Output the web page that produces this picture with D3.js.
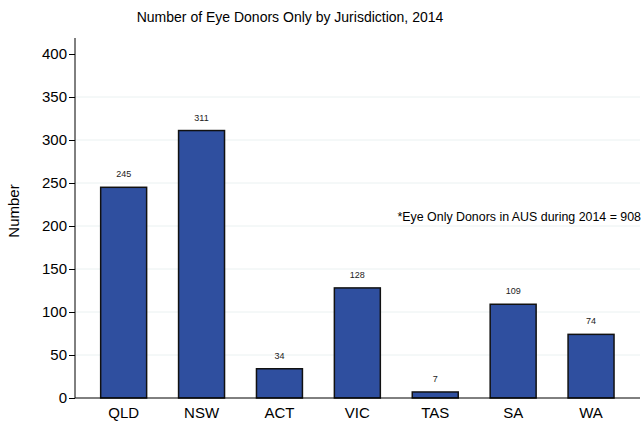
<!DOCTYPE html>
<html><head><meta charset="utf-8">
<script src="https://cdn.jsdelivr.net/npm/d3@7"></script>
<style>body{margin:0;background:#fff}svg{display:block;font-family:Arial,"Liberation Sans",sans-serif}</style>
</head><body><svg id="c" width="642" height="423"></svg>
<script>
const categories = ["QLD","NSW","ACT","VIC","TAS","SA","WA"];
const values = [245,311,34,128,7,109,74];
const yTicks = [0,50,100,150,200,250,300,350,400];
const title = "Number of Eye Donors Only by Jurisdiction, 2014";
const note = "*Eye Only Donors in AUS during 2014 = 908";

(function(){
const svg = d3.select("#c");
const mLeft = 75, mRight = 640, mTop = 54, mBottom = 398;
const y = d3.scaleLinear().domain([0,400]).range([mBottom, mTop]);
const x = d3.scaleBand().domain(categories).range([84.7,630]).paddingInner(0.41).paddingOuter(0.205);

// grid
svg.append("g").selectAll("line").data(yTicks.filter(d=>d>0&&d<400)).join("line")
  .attr("x1", mLeft).attr("x2", mRight).attr("y1", d=>y(d)).attr("y2", d=>y(d))
  .attr("stroke","#eaf1f1").attr("stroke-width",1);

// bars
svg.append("g").selectAll("rect").data(values).join("rect")
  .attr("x",(d,i)=>x(categories[i])).attr("width",x.bandwidth())
  .attr("y",d=>y(d)).attr("height",d=>y(0)-y(d))
  .attr("fill","#2f4f9f").attr("stroke","#111").attr("stroke-width",1.5);

// value labels
svg.append("g").selectAll("text").data(values).join("text")
  .attr("x",(d,i)=>x(categories[i])+x.bandwidth()/2).attr("y",d=>y(d)-10)
  .attr("text-anchor","middle").attr("font-size",9).attr("fill","#222").text(d=>d);

// y axis
const ya = svg.append("g").attr("transform",`translate(${mLeft},0)`)
  .call(d3.axisLeft(y).tickValues(yTicks).tickSize(6).tickPadding(2));
ya.select(".domain").attr("d",`M0,38V${mBottom}`).attr("stroke","#000");
ya.selectAll("text").attr("font-size",15).attr("fill","#000").attr("font-family","Arial, Liberation Sans, sans-serif");

// x axis
const xa = svg.append("g").attr("transform",`translate(0,${mBottom})`)
  .call(d3.axisBottom(x).tickSize(0).tickPadding(9));
xa.select(".domain").attr("d",`M${mLeft},0H${mRight}`).attr("stroke","#000");
xa.selectAll("text").attr("font-size",15).attr("fill","#000").attr("font-family","Arial, Liberation Sans, sans-serif");

svg.append("text").attr("x",290).attr("y",22).attr("text-anchor","middle")
  .attr("font-size",14).attr("fill","#000").text(title);
svg.append("text").attr("transform","translate(19,211) rotate(-90)").attr("text-anchor","middle")
  .attr("font-size",15).attr("fill","#000").text("Number");
svg.append("text").attr("x",641).attr("y",221).attr("text-anchor","end")
  .attr("font-size",12.4).attr("fill","#000").text(note);
})();
</script></body></html>
